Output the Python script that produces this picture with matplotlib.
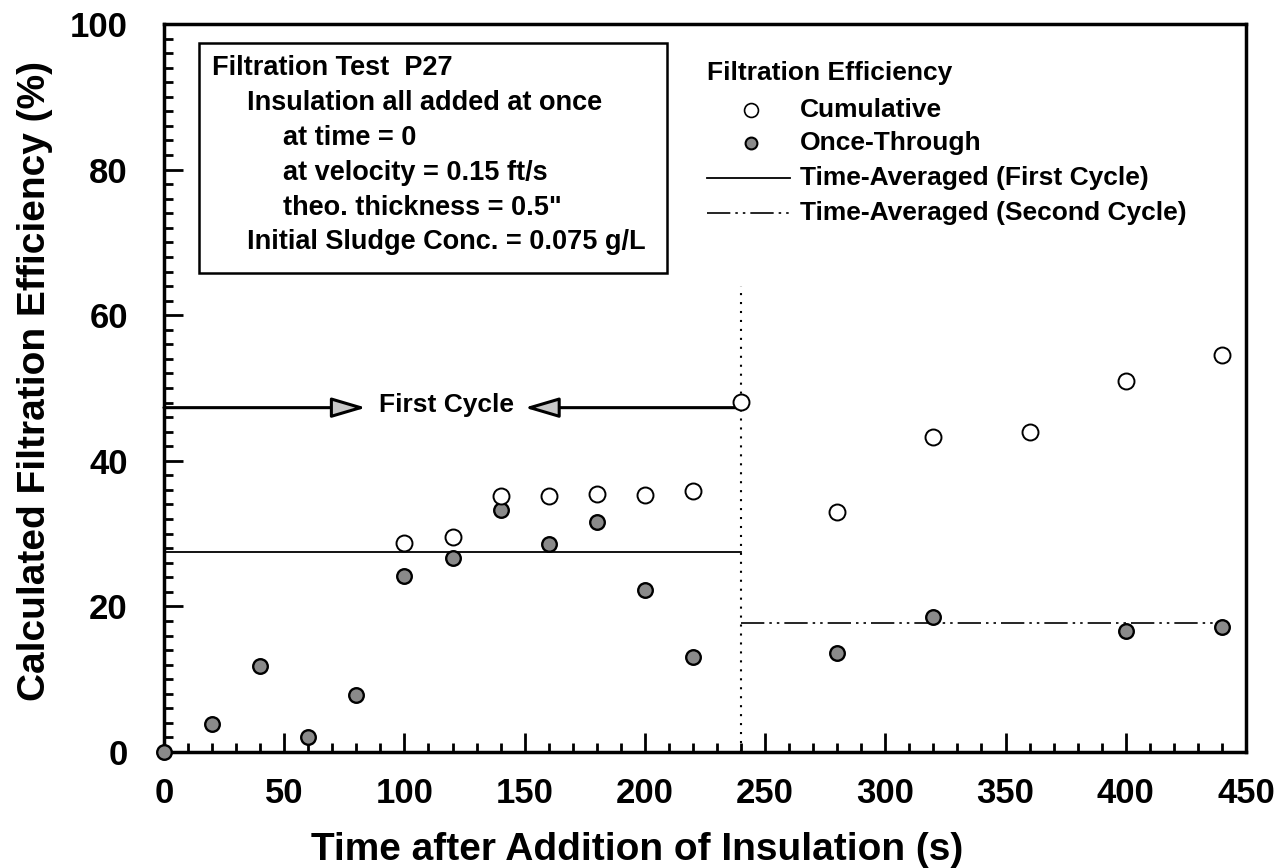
import matplotlib
matplotlib.use("Agg")
import matplotlib.pyplot as plt
from matplotlib.ticker import MultipleLocator

plt.rcParams["font.family"] = ["Liberation Sans", "DejaVu Sans"]
plt.rcParams["font.weight"] = "bold"

# -------------------------------
# Data (Filtration Test P27)
# -------------------------------
cum_time = [100, 120, 140, 160, 180, 200, 220, 240, 280, 320, 360, 400, 440]
cum_eff = [28.7, 29.6, 35.1, 35.1, 35.4, 35.3, 35.9, 48.1, 32.9, 43.3, 43.9, 50.9, 54.5]

once_time = [0, 20, 40, 60, 80, 100, 120, 140, 160, 180, 200, 220, 280, 320, 400, 440]
once_eff = [0.0, 3.9, 11.8, 2.1, 7.8, 24.2, 26.7, 33.2, 28.6, 31.6, 22.3, 13.0, 13.6, 18.6, 16.6, 17.2]

first_cycle_span = [0, 240]
first_cycle_avg = 27.5
second_cycle_span = [240, 440]
second_cycle_avg = 17.7

cycle_boundary = 240
boundary_top = 64
arrow_level = 47.3
arrow_tips = [84, 150]

box_lines = [
    "Filtration Test  P27",
    "Insulation all added at once",
    "at time = 0",
    "at velocity = 0.15 ft/s",
    "theo. thickness = 0.5\"",
    "Initial Sludge Conc. = 0.075 g/L",
]
box_indent = [0.044, 0.077, 0.110, 0.110, 0.110, 0.077]

legend_labels = ["Cumulative", "Once-Through",
                 "Time-Averaged (First Cycle)", "Time-Averaged (Second Cycle)"]

DASH_DOT_DOT = (0, (14, 3, 1.5, 3, 1.5, 3))

# -------------------------------
# Figure
# -------------------------------
fig = plt.figure(figsize=(12.77, 8.68), dpi=100)
ax = fig.add_axes([0.1284, 0.1336, 0.8473, 0.8388])

ax.plot(first_cycle_span, [first_cycle_avg] * 2, color="black", lw=1.3, zorder=2)
ax.plot(second_cycle_span, [second_cycle_avg] * 2, color="black", lw=1.2,
        linestyle=DASH_DOT_DOT, zorder=2)
ax.plot([cycle_boundary] * 2, [0, boundary_top], color="black", lw=1.5,
        linestyle=(0, (1, 3.3)), zorder=2)

ax.plot(once_time, once_eff, linestyle="none", marker="o", markersize=10.5,
        markerfacecolor="#8a8a8a", markeredgecolor="black", markeredgewidth=1.7,
        zorder=4, clip_on=False)
ax.plot(cum_time, cum_eff, linestyle="none", marker="o", markersize=11.5,
        markerfacecolor="white", markeredgecolor="black", markeredgewidth=1.4,
        zorder=4, clip_on=False)

# first cycle arrows
arrow_props = dict(arrowstyle="-|>,head_length=2.1,head_width=0.62",
                   fc="#c8c8c8", ec="black", lw=2.2, shrinkA=0, shrinkB=0)
ax.annotate("", xy=(arrow_tips[0], arrow_level), xytext=(0, arrow_level),
            arrowprops=arrow_props)
ax.annotate("", xy=(arrow_tips[1], arrow_level), xytext=(cycle_boundary, arrow_level),
            arrowprops=arrow_props)
ax.text(117.5, arrow_level + 0.3, "First Cycle", ha="center", va="center",
        fontsize=19, fontweight="bold")

# annotation box
box = plt.Rectangle((0.032, 0.658), 0.433, 0.316, transform=ax.transAxes,
                    fill=False, ec="black", lw=1.8, zorder=5)
ax.add_patch(box)
box_y = [0.940, 0.891, 0.843, 0.795, 0.747, 0.700]
for line, x0, y0 in zip(box_lines, box_indent, box_y):
    ax.text(x0, y0, line, transform=ax.transAxes, ha="left", va="center",
            fontsize=19.5, fontweight="bold")

# legend, drawn by hand
ax.text(0.502, 0.933, "Filtration Efficiency", transform=ax.transAxes,
        ha="left", va="center", fontsize=19, fontweight="bold")
leg_y = [0.882, 0.837, 0.788, 0.740]
ax.plot([0.543], [leg_y[0]], transform=ax.transAxes, marker="o", markersize=10,
        markerfacecolor="white", markeredgecolor="black", markeredgewidth=1.2)
ax.plot([0.543], [leg_y[1]], transform=ax.transAxes, marker="o", markersize=8.5,
        markerfacecolor="#8a8a8a", markeredgecolor="black", markeredgewidth=1.5)
ax.plot([0.502, 0.579], [leg_y[2]] * 2, transform=ax.transAxes, color="black", lw=1.3)
ax.plot([0.502, 0.579], [leg_y[3]] * 2, transform=ax.transAxes, color="black", lw=1.2,
        linestyle=DASH_DOT_DOT)
for label, y0 in zip(legend_labels, leg_y):
    ax.text(0.588, y0, label, transform=ax.transAxes, ha="left", va="center",
            fontsize=19, fontweight="bold")

# axes
ax.set_xlim(0, 450)
ax.set_ylim(0, 100)
ax.xaxis.set_major_locator(MultipleLocator(50))
ax.xaxis.set_minor_locator(MultipleLocator(10))
ax.yaxis.set_major_locator(MultipleLocator(20))
ax.yaxis.set_minor_locator(MultipleLocator(2))
ax.tick_params(which="both", direction="in", top=False, right=False, width=2)
ax.tick_params(which="major", length=13.5)
ax.tick_params(which="minor", length=6.5)
ax.tick_params(axis="x", which="major", pad=18, labelsize=25)
ax.tick_params(axis="y", which="major", pad=26, labelsize=25)
for lbl in ax.get_xticklabels() + ax.get_yticklabels():
    lbl.set_fontweight("bold")
for spine in ax.spines.values():
    spine.set_linewidth(2.5)

ax.set_xlabel("Time after Addition of Insulation (s)", fontsize=28, fontweight="bold")
ax.set_ylabel("Calculated Filtration Efficiency (%)", fontsize=28, fontweight="bold")
ax.xaxis.set_label_coords(0.437, -0.11)
ax.yaxis.set_label_coords(-0.103, 0.51)

fig.savefig("out.png", dpi=100)
